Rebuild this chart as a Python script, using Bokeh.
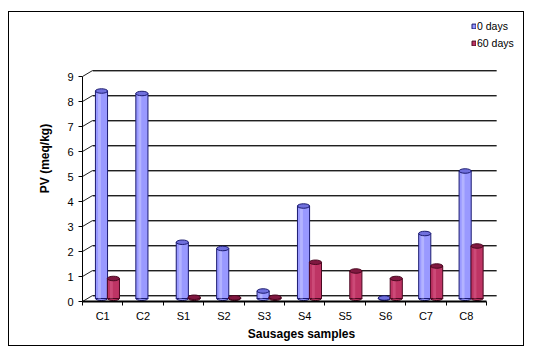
from bokeh.plotting import figure
from bokeh.models import Range1d, FixedTicker, Legend, LegendItem, ColumnDataSource
from bokeh.embed import file_html
from bokeh.resources import INLINE

# ---------------- data ----------------
samples = ["C1", "C2", "S1", "S2", "S3", "S4", "S5", "S6", "C7", "C8"]
pv_0_days = [8.3, 8.2, 2.25, 2.0, 0.3, 3.7, 0.0, 0.02, 2.6, 5.1]
pv_60_days = [0.8, 0.0, 0.05, 0.03, 0.05, 1.45, 1.1, 0.8, 1.3, 2.1]
series_names = ["0 days", "60 days"]
y_ticks = [0, 1, 2, 3, 4, 5, 6, 7, 8, 9]

# ---------------- style constants ----------------
FONT = "Liberation Sans"
DEPTH_DX = 0.25      # 3D back-wall offset (x units)
DEPTH_DY = 0.24      # 3D back-wall offset (y units)
BASE = 0.12          # bars stand mid-depth
BAR_W = 0.3
SERIES_POS = [0.47, 0.765]
BODY = ["#9999FF", "#BE3464"]
EDGE = ["#1A1A70", "#4A0820"]
TOPC = ["#7070DD", "#801840"]
HIGH = ["#C4C4FF", "#D65A86"]

n = len(samples)
p = figure(width=516, height=335, x_range=Range1d(0, 10.84), y_range=Range1d(0, 11.44),
           output_backend="svg", toolbar_location=None,
           min_border_left=73, min_border_right=5, min_border_top=3, min_border_bottom=46)
p.margin = (11, 8, 11, 8)
p.styles = {"border": "1px solid black"}
p.outline_line_color = None
p.xgrid.visible = False
p.ygrid.visible = False
p.background_fill_color = "white"
p.border_fill_color = "white"

# back-wall gridlines with 3D diagonals
g_x0 = [0] * len(y_ticks)
g_x1 = [DEPTH_DX] * len(y_ticks)
g_y0 = list(y_ticks)
g_y1 = [v + DEPTH_DY for v in y_ticks]
g_x2 = [n + DEPTH_DX] * len(y_ticks)
p.segment(x0=g_x0, y0=g_y0, x1=g_x1, y1=g_y1, line_color="#202020", line_width=1)
p.segment(x0=g_x1, y0=[v - 0.04 for v in g_y1], x1=g_x2, y1=[v - 0.04 for v in g_y1],
          line_color="#A0A0A0", line_width=1.2)
p.segment(x0=g_x1, y0=g_y1, x1=g_x2, y1=g_y1, line_color="#202020", line_width=1.1)

legend_items = []
for s, vals in enumerate([pv_0_days, pv_60_days]):
    xs = [i + SERIES_POS[s] for i, v in enumerate(vals) if v > 0]
    tops = [v + BASE for v in vals if v > 0]
    src = ColumnDataSource(dict(x=xs, top=tops, bottom=[BASE] * len(xs),
                                hx=[x - 0.05 for x in xs]))
    p.ellipse(x="x", y="bottom", width=BAR_W, height=4, height_units="screen", source=src,
              fill_color=BODY[s], line_color=EDGE[s], line_width=1)
    body = p.vbar(x="x", top="top", bottom="bottom", width=BAR_W, source=src,
                  fill_color=BODY[s], line_color=EDGE[s], line_width=1)
    p.vbar(x="hx", top="top", bottom="bottom", width=0.07, source=src,
           fill_color=HIGH[s], fill_alpha=0.6, line_color=None)
    p.ellipse(x="x", y="top", width=BAR_W, height=4.5, height_units="screen", source=src,
              fill_color=TOPC[s], line_color=EDGE[s], line_width=1)
    legend_items.append(LegendItem(label=series_names[s], renderers=[body]))

# axes
p.yaxis.ticker = FixedTicker(ticks=y_ticks)
p.yaxis.bounds = (0, 9)
p.yaxis.axis_line_color = "black"
p.yaxis.major_tick_out = 4
p.yaxis.major_tick_in = 0
p.yaxis.minor_tick_line_color = None
p.yaxis.major_label_standoff = 5
p.yaxis.major_label_text_font = FONT
p.yaxis.major_label_text_font_size = "11px"
p.yaxis.major_label_text_color = "black"
p.yaxis.axis_label = "PV (meq/kg)"
p.yaxis.axis_label_text_font = FONT
p.yaxis.axis_label_text_font_style = "bold"
p.yaxis.axis_label_text_font_size = "12px"
p.yaxis.axis_label_text_color = "black"
p.yaxis.axis_label_standoff = 12

centers = [i + 0.5 for i in range(n)]
p.xaxis.ticker = FixedTicker(ticks=centers, minor_ticks=list(range(n + 1)))
p.xaxis.major_label_overrides = {c: lab for c, lab in zip(centers, samples)}
p.xaxis.bounds = (0, n)
p.xaxis.axis_line_color = "black"
p.xaxis.axis_line_width = 2
p.xaxis.major_tick_line_color = None
p.xaxis.major_tick_out = 0
p.xaxis.minor_tick_out = 4
p.xaxis.minor_tick_in = 0
p.xaxis.minor_tick_line_color = "black"
p.xaxis.major_label_standoff = 4
p.xaxis.major_label_text_font = FONT
p.xaxis.major_label_text_font_size = "11px"
p.xaxis.major_label_text_color = "black"
p.xaxis.axis_label = "Sausages samples"
p.xaxis.axis_label_text_font = FONT
p.xaxis.axis_label_text_font_style = "bold"
p.xaxis.axis_label_text_font_size = "12px"
p.xaxis.axis_label_text_color = "black"
p.xaxis.axis_label_standoff = 2

legend = Legend(items=legend_items, location=(389, 252), orientation="vertical",
                glyph_width=5, glyph_height=6, label_height=12, label_standoff=1,
                spacing=5, padding=0, margin=0, border_line_color=None,
                background_fill_alpha=0, label_text_font=FONT,
                label_text_font_size="10.5px", label_text_color="black")
p.add_layout(legend)

open("out.html", "w").write(file_html(p, INLINE))
